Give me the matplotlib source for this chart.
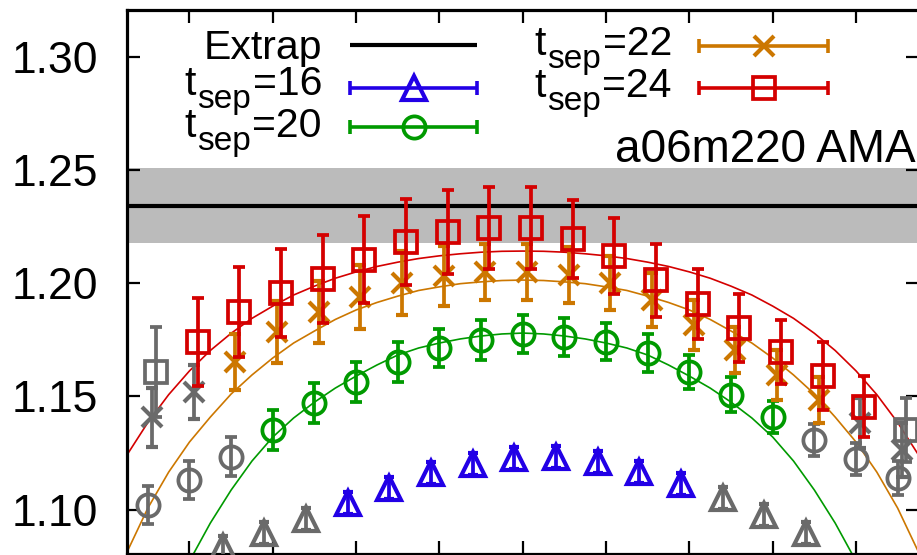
import matplotlib
matplotlib.use('Agg')
import matplotlib.pyplot as plt

plt.rcParams['font.family'] = ['Liberation Sans', 'DejaVu Sans']

# ---------------- data ----------------
extrap_val = 1.2341
extrap_err = 0.0166

# tsep = 24 (tau - tsep/2 from -9 to 9)
k24 = list(range(-9, 10))
y24 = [1.1607, 1.1740, 1.1872, 1.1956, 1.2018, 1.2102, 1.2181, 1.2225, 1.2243, 1.2243,
       1.2194, 1.2119, 1.2013, 1.1907, 1.1801, 1.1695, 1.1590, 1.1453, 1.1351]
e24 = [0.0199, 0.0194, 0.0197, 0.0196, 0.0194, 0.0192, 0.0190, 0.0185, 0.0181, 0.0181,
       0.0172, 0.0166, 0.0161, 0.0155, 0.0150, 0.0143, 0.0150, 0.0135, 0.0141]
fitmax24 = 8

# tsep = 22
k22 = list(range(-9, 10))
y22 = [1.1408, 1.1519, 1.1651, 1.1784, 1.1872, 1.1938, 1.2000, 1.2031, 1.2049, 1.2049,
       1.2035, 1.2000, 1.1925, 1.1815, 1.1704, 1.1594, 1.1483, 1.1382, 1.1263]
e22 = [0.0130, 0.0120, 0.0124, 0.0137, 0.0137, 0.0141, 0.0141, 0.0132, 0.0124, 0.0124,
       0.0124, 0.0120, 0.0120, 0.0110, 0.0102, 0.0110, 0.0102, 0.0110, 0.0120]
fitmax22 = 7

# tsep = 20
k20 = list(range(-9, 10))
y20 = [1.1020, 1.1130, 1.1232, 1.1351, 1.1470, 1.1563, 1.1651, 1.1713, 1.1748, 1.1775,
       1.1762, 1.1740, 1.1691, 1.1607, 1.1506, 1.1408, 1.1307, 1.1223, 1.1139]
e20 = [0.0084, 0.0084, 0.0086, 0.0088, 0.0088, 0.0088, 0.0088, 0.0082, 0.0088, 0.0084,
       0.0085, 0.0082, 0.0085, 0.0077, 0.0077, 0.0070, 0.0070, 0.0070, 0.0073]
fitmax20 = 6

# tsep = 16
k16 = list(range(-7, 8))
y16 = [1.0834, 1.0896, 1.0958, 1.1029, 1.1095, 1.1161, 1.1201, 1.1227, 1.1232, 1.1210,
       1.1166, 1.1113, 1.1051, 1.0976, 1.0896]
e16 = [0.0050] * 15
fitmax16 = 4

# fit curves
fit_x = [-9.5, -9.0, -8.5, -8.0, -7.5, -7.0, -6.5, -6.0, -5.5, -5.0, -4.5, -4.0, -3.5,
         -3.0, -2.5, -2.0, -1.5, -1.0, -0.5, 0.0, 0.5, 1.0, 1.5, 2.0, 2.5, 3.0, 3.5,
         4.0, 4.5, 5.0, 5.5, 6.0, 6.5, 7.0, 7.5, 8.0, 8.5, 9.0, 9.5]
fit24 = [1.1241, 1.1384, 1.1507, 1.1612, 1.1702, 1.1778, 1.1844, 1.1898, 1.1947, 1.1986,
         1.2021, 1.2049, 1.2073, 1.2092, 1.2108, 1.2120, 1.2129, 1.2136, 1.2140, 1.2141,
         1.2140, 1.2136, 1.2129, 1.2120, 1.2108, 1.2092, 1.2073, 1.2049, 1.2021, 1.1986,
         1.1947, 1.1898, 1.1844, 1.1778, 1.1702, 1.1612, 1.1507, 1.1384, 1.1241]
fit22 = [1.0812, 1.1006, 1.1165, 1.1298, 1.1408, 1.1510, 1.1594, 1.1669, 1.1735, 1.1788,
         1.1839, 1.1881, 1.1914, 1.1942, 1.1967, 1.1983, 1.1997, 1.2005, 1.2011, 1.2013,
         1.2011, 1.2005, 1.1997, 1.1983, 1.1967, 1.1942, 1.1914, 1.1881, 1.1839, 1.1788,
         1.1735, 1.1669, 1.1594, 1.1510, 1.1408, 1.1298, 1.1165, 1.1006, 1.0812]
fit20 = [1.0035, 1.0322, 1.0565, 1.0772, 1.0940, 1.1086, 1.1214, 1.1320, 1.1404, 1.1474,
         1.1536, 1.1589, 1.1638, 1.1682, 1.1713, 1.1735, 1.1753, 1.1766, 1.1775, 1.1779,
         1.1775, 1.1766, 1.1753, 1.1735, 1.1713, 1.1682, 1.1638, 1.1589, 1.1536, 1.1474,
         1.1404, 1.1320, 1.1214, 1.1086, 1.0940, 1.0772, 1.0565, 1.0322, 1.0035]

yticks = [1.10, 1.15, 1.20, 1.25, 1.30]
xticks = [-8, -6, -4, -2, 0, 2, 4, 6, 8]
legend_tseps = ['16', '20', '22', '24']

# ---------------- style ----------------
C16 = '#2200e6'
C20 = '#009a00'
C22 = '#cc7700'
C24 = '#d40000'
GRAY = '#6a6a6a'
BAND = '#bbbbbb'
ELW = 2.7

W, H = 917, 555
fig = plt.figure(figsize=(W / 100, H / 100), dpi=100)
ax = fig.add_axes([127 / W, 1 - 554 / H, (918.5 - 127) / W, (554 - 10) / H])

ax.set_xlim(-9.5, 9.5)
ax.set_ylim(1.10 - 44.5 / 2265, 1.10 + 499.5 / 2265)

ax.axhspan(extrap_val - extrap_err, extrap_val + extrap_err, color=BAND, lw=0, zorder=0.5)
ax.axhline(extrap_val, color='black', lw=3.0, zorder=1)

ax.plot(fit_x, fit20, color=C20, lw=1.2, zorder=2)
ax.plot(fit_x, fit22, color=C22, lw=1.2, zorder=2)
ax.plot(fit_x, fit24, color=C24, lw=1.2, zorder=2)


def draw(ks, ys, es, fitmax, off, color, marker, ms, mew, cap, z):
    for inside in (False, True):
        xs = [k + off for k, y in zip(ks, ys) if (abs(k) <= fitmax) == inside]
        yy = [y for k, y in zip(ks, ys) if (abs(k) <= fitmax) == inside]
        ee = [e for k, e in zip(ks, es) if (abs(k) <= fitmax) == inside]
        c = color if inside else GRAY
        ax.errorbar(xs, yy, yerr=ee, fmt=marker, ms=ms, mfc='none', mec=c, mew=mew,
                    ecolor=c, elinewidth=ELW, capsize=cap, capthick=ELW, ls='none',
                    zorder=z + (1 if inside else 0))


draw(k16, y16, e16, fitmax16, -0.2, C16, '^', 17, 3.0, 3.8, 3)
draw(k20, y20, e20, fitmax20, 0.0, C20, 'o', 16, 2.7, 4.6, 5)
draw(k22, y22, e22, fitmax22, 0.1, C22, 'x', 14, 3.0, 4.6, 7)
draw(k24, y24, e24, fitmax24, 0.2, C24, 's', 15.5, 2.7, 4.6, 9)

ax.set_yticks(yticks)
ax.set_yticklabels(['%.2f' % v for v in yticks])
ax.set_xticks(xticks)
ax.tick_params(axis='both', which='major', direction='in', length=9.5, width=1.6,
               top=True, right=True, labelbottom=False, labelsize=32, pad=21)
for s in ax.spines.values():
    s.set_linewidth(2.3)

# ---------------- legend (gnuplot style) ----------------
lax = fig.add_axes([0, 0, 1, 1], zorder=20)
lax.set_xlim(0, W)
lax.set_ylim(H, 0)
lax.axis('off')
lax.patch.set_alpha(0)


def sample(x0, x1, y, color, marker, ms, mew, lw=2.6, caps=True):
    lax.plot([x0, x1], [y, y], color=color, lw=lw, solid_capstyle='butt')
    if caps:
        for xc in (x0, x1):
            lax.plot([xc, xc], [y - 7, y + 7], color=color, lw=2.6, solid_capstyle='butt')
    if marker:
        lax.plot([(x0 + x1) / 2], [y], marker=marker, ms=ms, mfc='none', mec=color,
                 mew=mew, ls='none')


sample(350, 477, 45, 'black', None, 0, 0, lw=3.0, caps=False)
sample(350, 477, 88, C16, '^', 17, 3.0)
sample(350, 477, 127, C20, 'o', 16, 2.7)
sample(699, 828, 46, C22, 'x', 14, 3.0)
sample(699, 828, 88, C24, 's', 15.5, 2.7)

FS = 29.5
SUB = 24
renderer = fig.canvas.get_renderer()


def tsep_label(xr, ybase, num):
    t3 = lax.text(xr, ybase, '=' + num, ha='right', va='baseline', fontsize=FS)
    x_left = lax.transData.inverted().transform(
        (t3.get_window_extent(renderer).x0, 0))[0]
    t2 = lax.text(x_left - 2, ybase + 13, 'sep', ha='right', va='baseline', fontsize=SUB)
    x_left2 = lax.transData.inverted().transform(
        (t2.get_window_extent(renderer).x0, 0))[0]
    lax.text(x_left2 - 1, ybase, 't', ha='right', va='baseline', fontsize=FS)


lax.text(322, 59, 'Extrap', ha='right', va='baseline', fontsize=FS)
tsep_label(322, 95, legend_tseps[0])
tsep_label(322, 137, legend_tseps[1])
tsep_label(672, 55, legend_tseps[2])
tsep_label(672, 97, legend_tseps[3])
lax.text(916, 162, 'a06m220 AMA', ha='right', va='baseline', fontsize=33)

fig.savefig('out.png', dpi=100)
